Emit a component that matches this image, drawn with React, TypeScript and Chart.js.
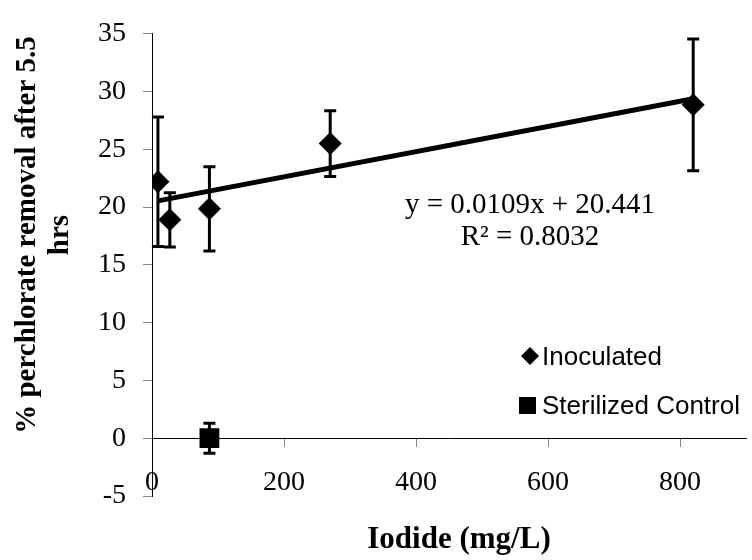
import React, { useEffect, useRef } from "react";
import { Chart, registerables } from "chart.js";

Chart.register(...registerables);

// ---- data ----
const inoculatedX = [9, 27, 87, 270, 820];
const inoculatedY = [22.2, 18.9, 19.85, 25.5, 28.85];
const inoculatedErr = [5.6, 2.35, 3.65, 2.85, 5.7];

const controlX = [87];
const controlY = [0];
const controlErr = [1.3];

const trendSlope = 0.0109;
const trendIntercept = 20.441;
const trendXRange = [9, 820];

const equationLines = ["y = 0.0109x + 20.441", "R\u00b2 = 0.8032"];
const legendLabels = ["Inoculated", "Sterilized Control"];
const xTitle = "Iodide (mg/L)";
const yTitleLines = ["% perchlorate removal after 5.5", "hrs"];

const xMin = 0;
const xMax = 900;
const xStep = 200;
const yMin = -5;
const yMax = 35;
const yStep = 5;

const SERIF = "'Liberation Serif', 'Times New Roman', serif";
const SANS = "'Liberation Sans', Arial, sans-serif";

const errorBarsPlugin = {
  id: "errorBars",
  afterDatasetsDraw(chart: any) {
    const { ctx, scales } = chart;
    const xs = scales.x;
    const ys = scales.y;
    const sets = [
      { x: inoculatedX, y: inoculatedY, e: inoculatedErr },
      { x: controlX, y: controlY, e: controlErr },
    ];
    ctx.save();
    ctx.strokeStyle = "#000";
    ctx.lineWidth = 3;
    ctx.lineCap = "butt";
    sets.forEach((s) => {
      s.x.forEach((xv, i) => {
        const px = xs.getPixelForValue(xv);
        const top = ys.getPixelForValue(s.y[i] + s.e[i]);
        const bot = ys.getPixelForValue(s.y[i] - s.e[i]);
        ctx.beginPath();
        ctx.moveTo(px, top);
        ctx.lineTo(px, bot);
        ctx.moveTo(px - 6, top);
        ctx.lineTo(px + 6, top);
        ctx.moveTo(px - 6, bot);
        ctx.lineTo(px + 6, bot);
        ctx.stroke();
      });
    });
    ctx.restore();
  },
};

const textPlugin = {
  id: "annotText",
  afterDraw(chart: any) {
    const { ctx } = chart;
    ctx.save();
    ctx.fillStyle = "#000";

    // y title
    ctx.font = `bold 29px ${SERIF}`;
    ctx.textAlign = "center";
    ctx.textBaseline = "alphabetic";
    const yBase = [35, 68];
    yTitleLines.forEach((line, i) => {
      ctx.save();
      ctx.translate(yBase[i], 235);
      ctx.rotate(-Math.PI / 2);
      ctx.fillText(line, 0, 0);
      ctx.restore();
    });

    // x title
    ctx.font = `bold 31px ${SERIF}`;
    ctx.fillText(xTitle, 459, 548);

    // equation
    ctx.font = `29px ${SERIF}`;
    ctx.fillText(equationLines[0], 530, 213);
    ctx.fillText(equationLines[1], 530, 245);

    // legend
    ctx.textAlign = "left";
    ctx.font = `26px ${SANS}`;
    // diamond
    const dx = 530, dy = 356, r = 9;
    ctx.beginPath();
    ctx.moveTo(dx, dy - r);
    ctx.lineTo(dx + r, dy);
    ctx.lineTo(dx, dy + r);
    ctx.lineTo(dx - r, dy);
    ctx.closePath();
    ctx.fill();
    ctx.fillText(legendLabels[0], 542, 365);
    // square
    ctx.fillRect(519, 397, 17, 17);
    ctx.fillText(legendLabels[1], 542, 413.5);

    ctx.restore();
  },
};

export default function App() {
  const canvasRef = useRef<HTMLCanvasElement | null>(null);

  useEffect(() => {
    const canvas = canvasRef.current;
    if (!canvas) return;
    const chart = new Chart(canvas, {
      type: "scatter",
      data: {
        datasets: [
          {
            label: legendLabels[0],
            data: inoculatedX.map((x, i) => ({ x, y: inoculatedY[i] })),
            pointStyle: "rectRot",
            pointRadius: 11.5,
            backgroundColor: "#000",
            borderColor: "#000",
            borderWidth: 0,
            showLine: false,
          },
          {
            label: legendLabels[1],
            data: controlX.map((x, i) => ({ x, y: controlY[i] })),
            pointStyle: "rect",
            pointRadius: 14,
            backgroundColor: "#000",
            borderColor: "#000",
            borderWidth: 0,
            showLine: false,
          },
          {
            label: "Trend",
            type: "line",
            data: trendXRange.map((x) => ({ x, y: trendSlope * x + trendIntercept })),
            borderColor: "#000",
            borderWidth: 5,
            pointRadius: 0,
            fill: false,
          } as any,
        ],
      },
      options: {
        responsive: false,
        animation: false,
        layout: { padding: { top: 26, bottom: 64, left: 0, right: 1.5 } },
        plugins: {
          legend: { display: false },
          tooltip: { enabled: false },
        },
        scales: {
          x: {
            type: "linear",
            min: xMin,
            max: xMax,
            position: { y: 0 } as any,
            grid: {
              display: true,
              drawOnChartArea: false,
              drawTicks: true,
              tickLength: 8,
              color: "#888",
            },
            border: { display: true, color: "#000", width: 1 },
            ticks: {
              stepSize: xStep,
              includeBounds: false,
              color: "#000",
              padding: 20,
              maxRotation: 0,
              font: { family: SERIF, size: 28 },
            },
          },
          y: {
            type: "linear",
            position: "left",
            min: yMin,
            max: yMax,
            grid: {
              display: true,
              drawOnChartArea: false,
              drawTicks: true,
              tickLength: 9,
              color: "#888",
            },
            border: { display: true, color: "#000", width: 1 },
            ticks: {
              stepSize: yStep,
              color: "#000",
              padding: 17,
              font: { family: SERIF, size: 28 },
            },
            afterFit(scale: any) {
              scale.width = 152;
            },
          },
        },
      },
      plugins: [errorBarsPlugin, textPlugin],
    });
    return () => chart.destroy();
  }, []);

  return (
    <div
      style={{
        position: "fixed",
        left: 0,
        top: 0,
        width: 752,
        height: 560,
        overflow: "hidden",
        background: "#fff",
      }}
    >
      <canvas ref={canvasRef} width={760} height={560} style={{ display: "block" }} />
    </div>
  );
}
